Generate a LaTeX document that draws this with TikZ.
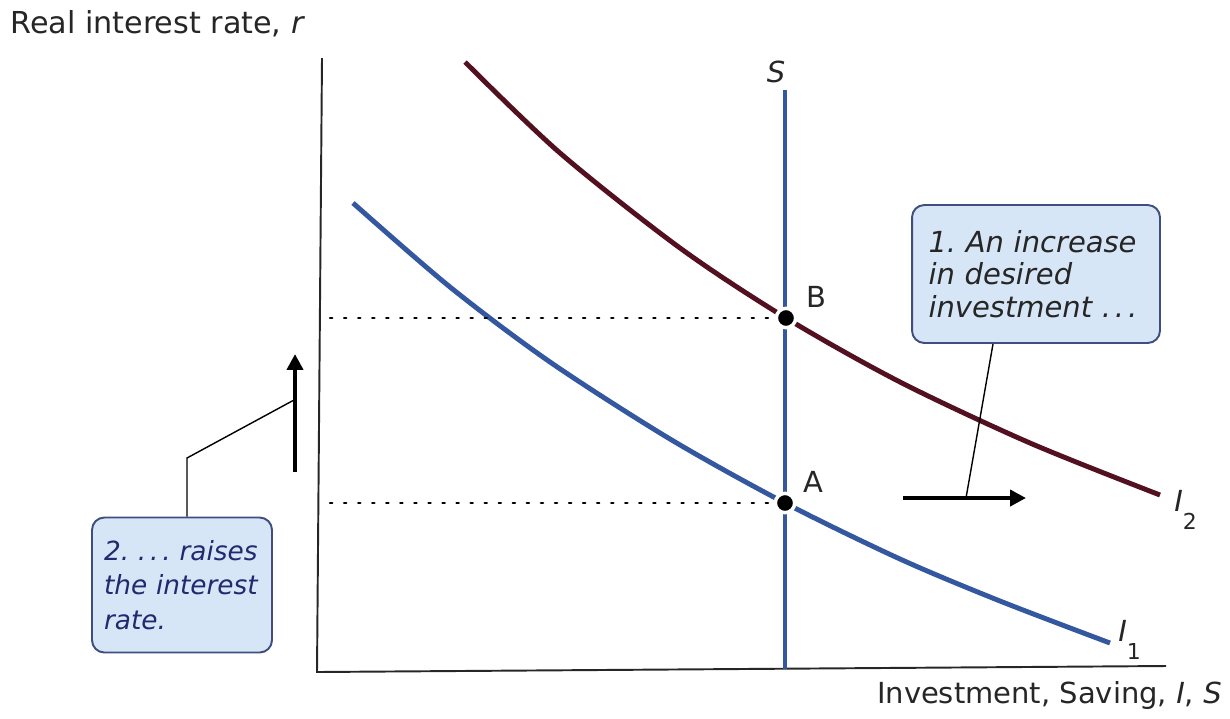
\documentclass[tikz,border=0pt]{standalone}
\usepackage{fontspec}
\setmainfont{DejaVu Sans}
\usetikzlibrary{arrows.meta}
\definecolor{curveblue}{RGB}{52,88,160}
\definecolor{maroon}{RGB}{82,16,32}
\definecolor{boxfill}{RGB}{214,230,246}
\definecolor{boxline}{RGB}{62,78,128}
\definecolor{navytext}{RGB}{36,40,110}
\frenchspacing
\tikzset{
  axisline/.style={line width=1.1pt, black!85},
  curveI/.style={line width=2.8pt, curveblue},
  curveII/.style={line width=2.8pt, maroon},
  sline/.style={line width=2.4pt, curveblue},
  guide/.style={line width=1.3pt, dash pattern=on 1.3pt off 6.7pt, line cap=round},
  callout/.style={draw=boxline, line width=1.1pt, fill=boxfill, rounded corners=7pt, inner sep=0pt, align=left, font=\fontsize{15}{17.5}\selectfont\itshape},
  leader/.style={line width=0.8pt},
  bigarrow/.style={line width=2.8pt, -{Triangle[length=9pt,width=9pt]}},
  lab/.style={font=\fontsize{16.5}{19}\selectfont, inner sep=0pt, text=black!85},
  dot/.style={circle, fill=black, draw=white, line width=2pt, minimum size=11pt, inner sep=0pt}
}
\newcommand{\dotsq}{.\kern2.2pt.\kern2.2pt.}
\newcommand{\subnum}[1]{\raisebox{-1.1ex}{\fontsize{12.5}{14}\selectfont #1}}
\begin{document}
\begin{tikzpicture}[x=0.02cm, y=-0.02cm]
\useasboundingbox (0,0) rectangle (1230,718);
% axes
\coordinate (O) at (317,672);
\coordinate (ytop) at (322,58);
\coordinate (xend) at (1166,666);
\draw[axisline] (ytop) -- (O) -- (xend);
\node[lab, anchor=base west, font=\fontsize{17.2}{19}\selectfont] (ylab) at (10,33) {Real interest rate, \textit{r}};
\node[lab, anchor=base east] (xlab) at (1222,703) {Investment, Saving, \textit{I}, \textit{S}};
% S line
\coordinate (Stop) at (785,90);
\coordinate (Sbot) at (785,669);
\draw[sline] (Stop) -- (Sbot);
\node[lab] (Slab) at (776,72) {\textit{S}};
% curves
\draw[curveI] plot[smooth] coordinates {(353,203) (450,287) (550,362) (670,439) (785,503) (900,559) (1000,601) (1110,643)};
\draw[curveII] plot[smooth] coordinates {(465,62) (560,153) (680,248) (786,318) (900,382) (1030,443) (1160,495)};
\node[lab, anchor=west] (I1lab) at (1118,640) {\textit{I}\subnum{1}};
\node[lab, anchor=west] (I2lab) at (1174,510) {\textit{I}\subnum{2}};
% dotted guides
\coordinate (gB) at (330,318);
\coordinate (gA) at (330,503);
\node[dot] (B) at (786,318) {};
\node[dot] (A) at (785,503) {};
\draw[guide] (gB) -- (B.west);
\draw[guide] (gA) -- (A.west);
\node[lab] (Blab) at (816,297) {B};
\node[lab] (Alab) at (813,482) {A};
% arrows
\coordinate (r0) at (903,498);
\coordinate (r1) at (1026,498);
\draw[bigarrow] (r0) -- (r1);
\coordinate (u0) at (295,472);
\coordinate (u1) at (295,354);
\draw[bigarrow] (u0) -- (u1);
% callouts
\node[callout, minimum width=4.96cm, minimum height=2.76cm, text width=4.3cm, text=black!85, font=\fontsize{16.5}{18.5}\selectfont\itshape] (box1) at (1036,274) {1. An increase\\in desired\\investment \dotsq};
\node[callout, minimum width=3.6cm, minimum height=2.7cm, text width=3.12cm, text=navytext, font=\fontsize{15}{19.5}\selectfont\itshape] (box2) at (182,585) {2. \dotsq\ raises\\the interest\\rate.};
\coordinate (l1) at (966,498);
\draw[leader] (l1) -- (box1.south -| 993,0);
\coordinate (l2) at (294,400);
\coordinate (l2b) at (187,458);
\draw[leader] (l2) -- (l2b) -- (box2.north -| l2b);
\end{tikzpicture}
\end{document}
